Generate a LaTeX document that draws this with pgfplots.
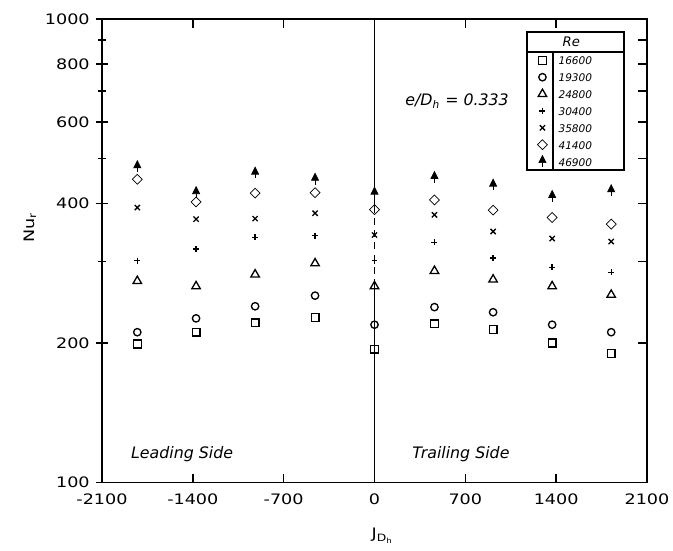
\documentclass[border=0pt]{standalone}
\usepackage{fontspec}
\setmainfont{DejaVu Sans}
\newfontfamily\widefont{DejaVu Sans}[FakeStretch=1.22]
\usepackage{pgfplots}
\usepackage{pgfplotstable}
\pgfplotsset{compat=1.18}

% filled arrow head with a short stem (Re = 46900)
\pgfdeclareplotmark{uparrow}{%
  \pgfpathmoveto{\pgfqpoint{-\pgfplotmarksize}{-0.3\pgfplotmarksize}}%
  \pgfpathlineto{\pgfqpoint{\pgfplotmarksize}{-0.3\pgfplotmarksize}}%
  \pgfpathlineto{\pgfqpoint{0pt}{1.7\pgfplotmarksize}}%
  \pgfpathclose
  \pgfusepathqfillstroke
  \pgfpathmoveto{\pgfqpoint{0pt}{-0.3\pgfplotmarksize}}%
  \pgfpathlineto{\pgfqpoint{0pt}{-1.5\pgfplotmarksize}}%
  \pgfusepathqstroke
}

\pgfplotstableread{
x     s16600 s19300 s24800 s30400 s35800 s41400 s46900
-1828 199 211 272 301 392 451 480
-1375 211 226 265 319 370 403 422
-920  221 240 281 338 371 421 465
-458  227 253 297 341 381 422 451
0     194 219 265 301 342 388 421
462   220 239 286 330 378 407 455
914   214 233 274 305 348 387 438
1369  200 219 265 291 336 373 414
1824  190 211 254 284 331 361 426
}\nudata

\pgfplotsset{
  pt/.style={only marks, black, mark options={solid, line width=0.75pt, fill=white},
    legend image code/.code={\path (0cm,-0.1cm) (0.58cm,0.1cm); \draw[##1] plot coordinates {(0.3cm,0cm)};}},
}
\newcommand\lab{\widefont\fontsize{8.2}{9.5}\selectfont}
\newcommand\itlab{\fontsize{9}{10}\selectfont\itshape}

\begin{document}
\begin{tikzpicture}
\begin{axis}[
  name=ax,
  scale only axis, width=10.9cm, height=9.27cm,
  xmin=-2100, xmax=2100, ymin=100, ymax=1000, ymode=log,
  axis line style={line width=0.8pt},
  every tick/.style={black, line width=0.8pt},
  tick align=inside, major tick length=5pt,
  xtick={-2100,-1400,-700,0,700,1400,2100},
  xticklabels={-2100,-1400,-700,0,700,1400,2100},
  xtick pos=both, xticklabel pos=lower,
  ytick={200,300,400,500,600,700,800,900},
  yticklabels={},
  ytick pos=right,
  tick label style={font=\lab},
  xticklabel style={yshift=-3pt},
  xlabel={J\textsubscript{D\textsubscript{h}}},
  xlabel style={at={(axis description cs:0.515,-0.115)}, anchor=center, font=\lab},
  legend style={at={(rel axis cs:0.780,0.929)}, anchor=north west, draw=none, fill=none,
    inner sep=0pt, outer sep=0pt, row sep=0pt, column sep=0pt,
    font=\fontsize{6}{7}\selectfont\itshape,
    nodes={inner sep=1pt, text height=6.4pt, text depth=1.2pt}},
  legend cell align=left,
]
% line at zero, broken where the markers sit
\addplot[black, line width=0.8pt, forget plot] coordinates {(0,100) (0,265)};
\addplot[black, line width=0.8pt, dash pattern=on 4pt off 3pt, forget plot] coordinates {(0,265) (0,388)};
\addplot[black, line width=0.8pt, forget plot] coordinates {(0,388) (0,1000)};

\draw[line width=0.8pt, fill=white] (rel axis cs:0.780,0.674) rectangle (rel axis cs:0.958,0.972);
\draw[line width=0.8pt] (rel axis cs:0.780,0.929) -- (rel axis cs:0.958,0.929);
\draw[line width=0.8pt] (rel axis cs:0.8275,0.674) -- (rel axis cs:0.8275,0.929);

\addplot[pt, mark=square, mark size=2.2pt] table[x=x, y=s16600] {\nudata};
\addplot[pt, mark=o, mark size=2.1pt] table[x=x, y=s19300] {\nudata};
\addplot[pt, mark=triangle, mark size=2.8pt] table[x=x, y=s24800] {\nudata};
\addplot[pt, mark=+, mark size=1.7pt] table[x=x, y=s30400] {\nudata};
\addplot[pt, mark=x, mark size=2.1pt] table[x=x, y=s35800] {\nudata};
\addplot[pt, mark=square, mark size=2pt, mark options={rotate=45}] table[x=x, y=s41400] {\nudata};
\addplot[pt, mark=uparrow, mark size=2pt, mark options={fill=black}] table[x=x, y=s46900] {\nudata};
\legend{16600,19300,24800,30400,35800,41400,46900}

\node[font=\fontsize{7.5}{8.5}\selectfont\itshape] at (rel axis cs:0.861,0.950) {Re};
\node[font=\itlab] at (axis cs:-1483,115) {Leading Side};
\node[font=\itlab] at (axis cs:666,115) {Trailing Side};
\node[font=\itlab, anchor=east] at (axis cs:1083,665) {e/D\textsubscript{h} = 0.333};
\end{axis}

\begin{axis}[
  at={(ax.south west)}, anchor=south west,
  scale only axis, width=10.9cm, height=9.27cm,
  xmin=-2100, xmax=2100, ymin=100, ymax=1000, ymode=log,
  axis line style={line width=0.8pt},
  every tick/.style={black, line width=0.8pt},
  xtick=\empty,
  ytick={100,200,400,600,800,1000},
  yticklabels={100,200,400,600,800,1000},
  minor ytick={300,500,700,900},
  ytick pos=left,
  tick align=center, major tick length=7pt, minor tick length=4.5pt,
  tick label style={font=\lab},
  ylabel={Nu\textsubscript{r}},
  ylabel style={at={(axis description cs:-0.132,0.55)}, anchor=center, font=\lab},
]
\end{axis}

\pgfresetboundingbox
\path[use as bounding box] ([xshift=-2.04cm,yshift=-1.35cm]ax.south west) rectangle ([xshift=0.52cm,yshift=0.38cm]ax.north east);
\end{tikzpicture}
\end{document}
